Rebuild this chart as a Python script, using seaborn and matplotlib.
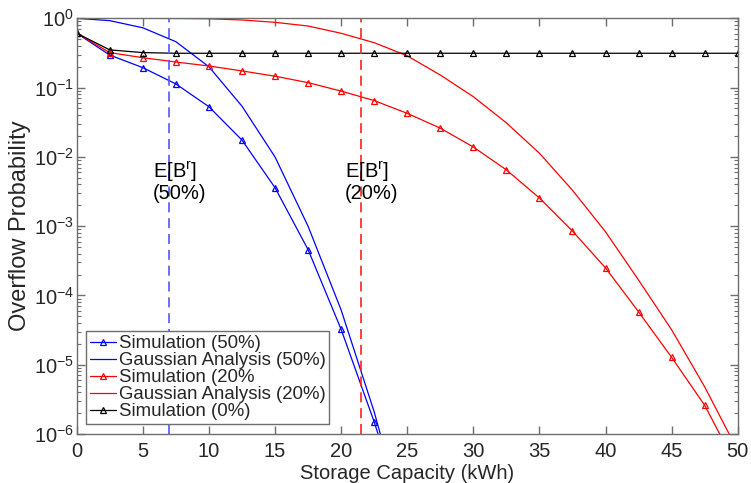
import numpy as np
import pandas as pd
import matplotlib
matplotlib.use("Agg")
import matplotlib.pyplot as plt
import matplotlib.ticker as mticker
import seaborn as sns

# Storage capacity grid (kWh)
capacity = [0, 2.5, 5, 7.5, 10, 12.5, 15, 17.5, 20, 22.5, 25, 27.5, 30,
            32.5, 35, 37.5, 40, 42.5, 45, 47.5, 50]

# 50% penetration
capacity_50 = [0, 2.5, 5, 7.5, 10, 12.5, 15, 17.5, 20, 22.5, 25]
sim_50 = [0.61, 0.295, 0.194, 0.113, 0.053, 0.0175, 0.0036, 4.6e-4,
          3.25e-5, 1.5e-6, 5e-8]
gauss_50 = [1.0, 0.925, 0.73, 0.46, 0.2, 0.054, 0.01, 1.0e-3,
            6.2e-5, 2.1e-6, 4e-8]

# 20% penetration
sim_20 = [0.61, 0.32, 0.27, 0.234, 0.205, 0.174, 0.146, 0.118, 0.089,
          0.065, 0.0425, 0.026, 0.0139, 6.5e-3, 2.55e-3, 8.5e-4, 2.5e-4,
          5.8e-5, 1.28e-5, 2.6e-6, 3.2e-7]
gauss_20 = [1.0, 1.0, 0.999, 0.995, 0.985, 0.946, 0.875, 0.774, 0.608,
            0.445, 0.288, 0.152, 0.074, 0.031, 0.0113, 3.3e-3, 8.3e-4,
            1.67e-4, 3.2e-5, 4.8e-6, 5.8e-7]

# 0% penetration
sim_0 = [0.61, 0.35, 0.32, 0.313, 0.313, 0.313, 0.313, 0.313, 0.313, 0.313,
         0.313, 0.313, 0.313, 0.313, 0.313, 0.313, 0.313, 0.313, 0.313,
         0.313, 0.313]

# Mean required storage for each penetration level
mean_storage_50 = 7.0
mean_storage_20 = 21.5

sns.set_style("ticks")
plt.rcParams["font.family"] = ["Liberation Sans", "DejaVu Sans"]
plt.rcParams["mathtext.fontset"] = "custom"
plt.rcParams["mathtext.rm"] = "Liberation Sans"
plt.rcParams["mathtext.it"] = "Liberation Sans"
plt.rcParams["axes.unicode_minus"] = False

fig = plt.figure(figsize=(7.51, 4.83), dpi=100)
ax = fig.add_axes([0.1021, 0.1014, 0.8802, 0.8607])

line_kw = dict(linewidth=0.9)
mark_kw = dict(marker="^", markersize=4.8, markerfacecolor="none",
               markeredgewidth=0.9)

sns.lineplot(x=capacity_50, y=sim_50, ax=ax, color="#0000ff",
             markeredgecolor="#0000ff", label="Simulation (50%)",
             **line_kw, **mark_kw)
sns.lineplot(x=capacity_50, y=gauss_50, ax=ax, color="#0000ff",
             label="Gaussian Analysis (50%)", **line_kw)
sns.lineplot(x=capacity, y=sim_20, ax=ax, color="#ff0000",
             markeredgecolor="#ff0000", label="Simulation (20%",
             **line_kw, **mark_kw)
sns.lineplot(x=capacity, y=gauss_20, ax=ax, color="#ff0000",
             label="Gaussian Analysis (20%)", **line_kw)
sns.lineplot(x=capacity, y=sim_0, ax=ax, color="#000000",
             markeredgecolor="#000000", label="Simulation (0%)",
             **line_kw, **mark_kw)

ax.axvline(mean_storage_50, color="#5555ff", linewidth=1.2,
           dashes=(6, 3.5))
ax.axvline(mean_storage_20, color="#ff2020", linewidth=1.2,
           dashes=(6, 3.5))

txt_kw = dict(fontsize=14.5, color="black", ha="left", va="top",
              linespacing=1.0)
ax.text(5.75, 10 ** -2.05, "E[B$^\\mathregular{r}$]\n(50%)", **txt_kw)
ax.text(20.3, 10 ** -2.05, "E[B$^\\mathregular{r}$]\n(20%)", **txt_kw)

ax.set_yscale("log")
ax.set_xlim(0, 50)
ax.set_ylim(1e-6, 1)
ax.set_xticks(np.arange(0, 51, 5))
ax.yaxis.set_major_locator(mticker.LogLocator(base=10, numticks=10))
ax.yaxis.set_minor_locator(mticker.LogLocator(base=10,
                                              subs=np.arange(2, 10),
                                              numticks=20))
ax.yaxis.set_minor_formatter(mticker.NullFormatter())

spine_col = "#6e6e6e"
for s in ax.spines.values():
    s.set_visible(True)
    s.set_color(spine_col)
    s.set_linewidth(1.0)

ax.tick_params(axis="both", which="both", direction="in", top=True,
               right=True, color=spine_col, labelcolor="#262626")
ax.tick_params(axis="both", which="major", length=6, width=1.0,
               labelsize=14.5)
ax.tick_params(axis="x", which="major", pad=6)
ax.tick_params(axis="y", which="major", pad=2)
ax.tick_params(axis="y", which="minor", length=3, width=0.8)

ax.set_xlabel("Storage Capacity (kWh)", fontsize=14.5, color="#262626",
              labelpad=2)
ax.set_ylabel("Overflow Probability", fontsize=17, color="#262626",
              labelpad=2)

leg = ax.legend(loc="upper left", bbox_to_anchor=(0.014, 0.247),
                fontsize=13.4, frameon=True, fancybox=False,
                handlelength=1.4, handletextpad=0.15, labelspacing=0.0,
                borderpad=0.2, borderaxespad=0.0)
leg.get_frame().set_edgecolor("#6e6e6e")
leg.get_frame().set_linewidth(1.0)
leg.get_frame().set_alpha(1.0)

fig.savefig("out.png", dpi=100)
